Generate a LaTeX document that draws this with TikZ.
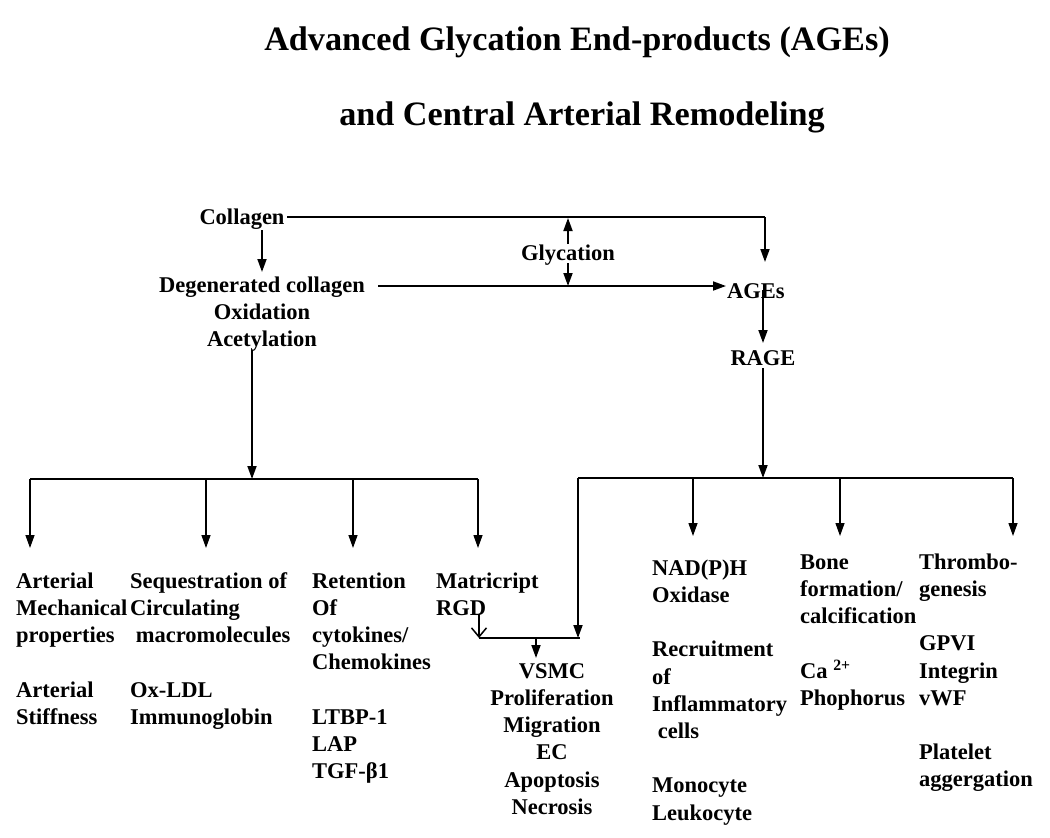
\documentclass[tikz,border=0pt]{standalone}
\usepackage{fontspec}
\setmainfont{Liberation Serif}
\usetikzlibrary{arrows.meta}
\newcommand\bodyfont{\fontsize{22.5}{27.2}\selectfont\bfseries}
\newcommand\titlefont{\fontsize{34.2}{40}\selectfont\bfseries}
\begin{document}
\begin{tikzpicture}[x=1pt,y=-1pt,
  txt/.style={inner sep=0pt,font=\bodyfont},
  col/.style={inner sep=0pt,font=\bodyfont,anchor=north west,align=left},
  ccol/.style={inner sep=0pt,font=\bodyfont,anchor=north,align=center},
  ttl/.style={inner sep=0pt,font=\titlefont,anchor=base},
  con/.style={line width=1.8pt},
  arr/.style={line width=1.8pt,-{Triangle[length=13pt,width=9pt]}},
  thin arr/.style={line width=1.3pt,-{Triangle[length=13pt,width=9pt]}},
  open arr/.style={line width=1.5pt,-{Straight Barb[length=9pt,width=15pt,line width=1.5pt]}}
]
\useasboundingbox (0,0) rectangle (1050,838);
\fill[white] (0,0) rectangle (1050,838);

% titles
\node[ttl] (t1) at (577,50) {Advanced Glycation End-products (AGEs)};
\node[ttl] (t2) at (582,125) {and Central Arterial Remodeling};

% top nodes
\node[txt,anchor=base] (collagen) at (242,224) {Collagen};
\node[ccol] (degen) at (262,273) {\strut Degenerated collagen\\Oxidation\\Acetylation};
\node[txt,anchor=base] (glyc) at (568,260) {Glycation};
\node[txt,anchor=base west] (ages) at (727,298) {AGEs};
\node[txt,anchor=base] (rage) at (763,365) {RAGE};

% coordinates
\coordinate (cStart) at (287,217);
\coordinate (cEnd) at (765,217);
\coordinate (agesTop) at (765,262);
\coordinate (cd1) at (262,230);
\coordinate (cd2) at (262,272);
\coordinate (dStart) at (378,286);
\coordinate (dEnd) at (726,286);
\coordinate (gUp) at (568,244);
\coordinate (gUpTip) at (568,218);
\coordinate (gDown) at (568,263);
\coordinate (gDownTip) at (568,286);
\coordinate (agesDown) at (763,290);
\coordinate (rageTop) at (763,343);
\coordinate (rageBot) at (763,368);
\coordinate (rBus) at (763,478);
\coordinate (rL) at (578,478);
\coordinate (rR) at (1013,478);
\coordinate (acet) at (252,350);
\coordinate (lBus) at (252,479);
\coordinate (lL) at (30,479);
\coordinate (lR) at (478,479);

\draw[con] (cStart) -- (cEnd);
\draw[arr] (cEnd) -- (agesTop);
\draw[arr] (cd1) -- (cd2);
\draw[arr] (dStart) -- (dEnd);
\draw[arr] (gUp) -- (gUpTip);
\draw[arr] (gDown) -- (gDownTip);
\draw[arr] (agesDown) -- (rageTop);
\draw[arr] (rageBot) -- (rBus);
\draw[arr] (acet) -- (lBus);

% buses
\draw[con] (lL) -- (lR);
\draw[con] (rL) -- (rR);

% left drops
\foreach \x in {30,206,353,478}{
  \draw[thin arr] (\x,479) -- (\x,548);
}
% right drops
\foreach \x in {693,840,1013}{
  \draw[thin arr] (\x,478) -- (\x,536);
}
\coordinate (vJoinR) at (580,638);
\coordinate (vJoinL) at (479,638);
\coordinate (vMid) at (536,638);
\coordinate (vsmcTop) at (536,658);
\coordinate (rgdArr) at (479,614);
\draw[arr] (rL) -- (rL |- vJoinR);
\draw[con] (vJoinL) -- (vJoinR);
\draw[open arr] (rgdArr) -- (vJoinL);
\draw[arr] (vMid) -- (vsmcTop);

% bottom columns
\node[col] (c1) at (16,569) {\strut Arterial\\Mechanical\\properties\\[27.2pt]Arterial\\Stiffness};
\node[col] (c2) at (130,569) {\strut Sequestration of\\Circulating\\\ macromolecules\\[27.2pt]Ox-LDL\\Immunoglobin};
\node[col] (c3) at (312,569) {\strut Retention\\Of\\cytokines/\\Chemokines\\[27.2pt]LTBP-1\\LAP\\TGF-β1};
\node[col] (c4) at (436,569) {\strut Matricript\\RGD};
\node[ccol] (c5) at (552,659) {\strut VSMC\\Proliferation\\Migration\\EC\\Apoptosis\\Necrosis};
\node[col] (c6) at (652,556) {\strut NAD(P)H\\Oxidase\\[27.2pt]Recruitment\\of\\Inflammatory\\\ cells\\[27.2pt]Monocyte\\Leukocyte};
\node[col] (c7) at (800,550) {\strut Bone\\formation/\\calcification\\[27.2pt]Ca \textsuperscript{2+}\\Phophorus};
\node[col] (c8) at (919,550) {\strut Thrombo-\\genesis\\[27.2pt]GPVI\\Integrin\\vWF\\[27.2pt]Platelet\\aggergation};
\end{tikzpicture}
\end{document}
